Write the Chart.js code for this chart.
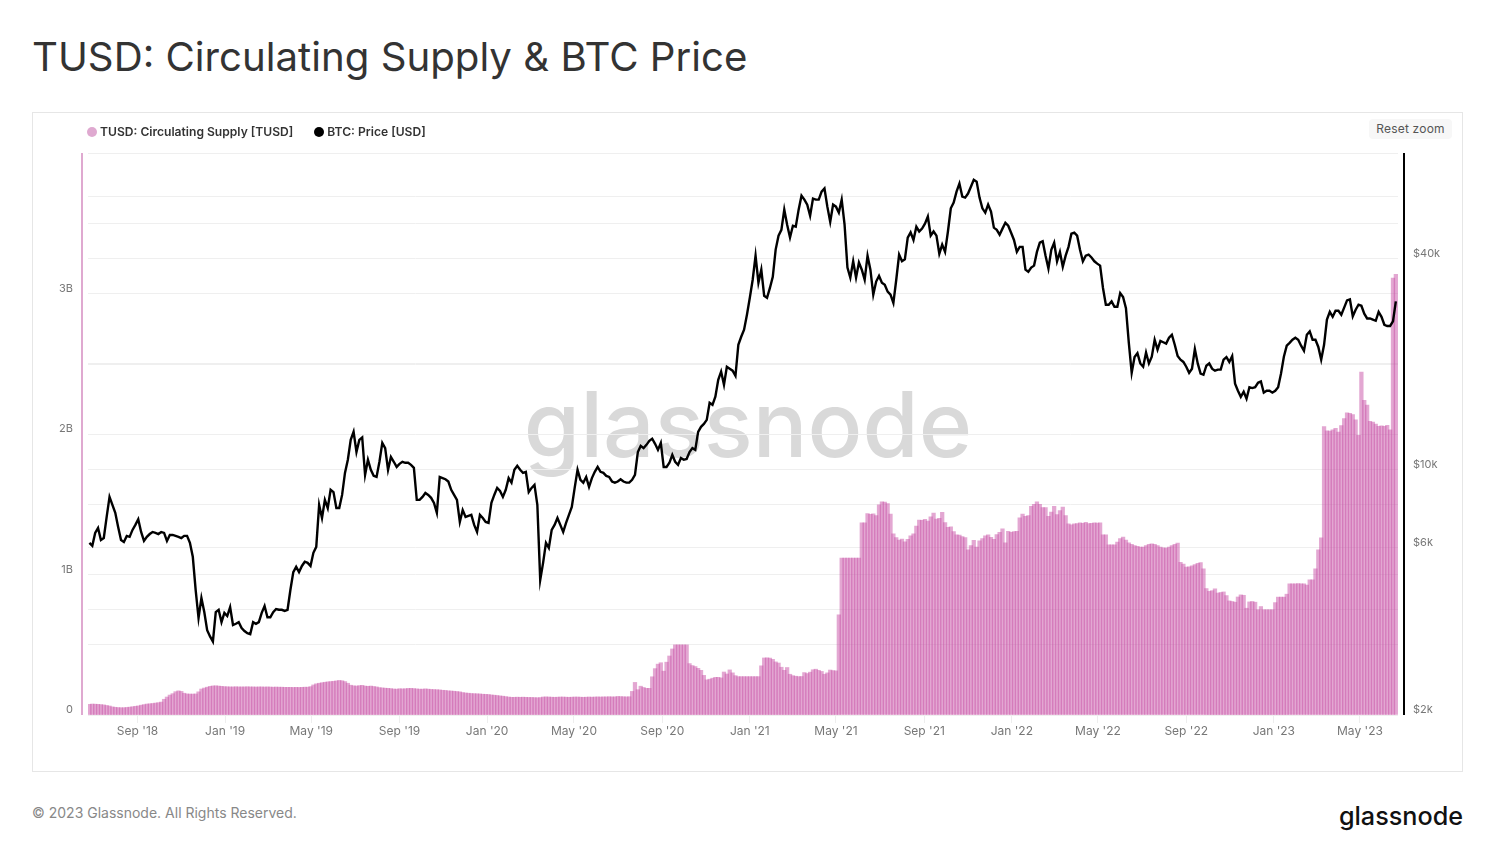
<!DOCTYPE html>
<html>
<head>
<meta charset="utf-8">
<title>TUSD: Circulating Supply & BTC Price</title>
<script src="https://cdn.jsdelivr.net/npm/chart.js@4"></script>
<style>
body { margin: 0; background: #fff; font-family: Inter, sans-serif; width: 1495px; height: 861px; position: relative; overflow: hidden; }
h1 { position: absolute; left: 32px; top: 33px; margin: 0; font-size: 40.2px; line-height: 48px; font-weight: 400; color: #333; white-space: nowrap; }
#frame { position: absolute; left: 32px; top: 112px; width: 1429px; height: 658px; border: 1px solid #e6e6e6; }
#frame canvas { position: absolute; left: -1px; top: -1px; }
#legend { position: absolute; left: 54px; top: 11px; font-size: 12.1px; font-weight: 600; color: #333; white-space: nowrap; }
#legend span { display: inline-block; line-height: 16px; }
#legend i { display: inline-block; width: 10px; height: 10px; border-radius: 50%; margin-right: 3px; vertical-align: -1px; }
#legend span + span { margin-left: 21px; }
#reset { position: absolute; left: 1336px; top: 6px; width: 83px; height: 20px; line-height: 20px; text-align: center; background: #f7f7f7; border-radius: 4px; font-size: 12px; color: #555; letter-spacing: .2px; }
#footer { position: absolute; left: 32px; top: 804px; font-size: 14px; line-height: 18px; color: #888; }
#logo { position: absolute; right: 32px; top: 798px; font-size: 25.2px; line-height: 36px; font-weight: 500; color: #111; }
</style>
</head>
<body>
<h1>TUSD: Circulating Supply &amp; BTC Price</h1>
<div id="frame">
  <canvas id="chart" width="1430" height="659"></canvas>
  <div id="legend"></div>
  <div id="reset">Reset zoom</div>
</div>
<div id="footer">© 2023 Glassnode. All Rights Reserved.</div>
<div id="logo">glassnode</div>
<script>
// one reading every 4 days, starting late June 2018
const stepDays = 4;

// TUSD supply, millions
const supply = [
    76,78,77,76,74,72,68,64,58,55,
    53,52,52,54,56,59,62,65,70,74,
    78,80,82,85,88,92,112,128,142,152,
    166,172,168,155,150,149,149,150,165,185,
    192,198,204,207,208,206,204,202,201,200,
    200,201,200,200,200,201,200,200,199,200,
    200,199,200,199,198,199,198,198,197,197,
    197,196,197,196,197,198,198,202,214,222,
    226,230,233,236,238,240,243,246,244,238,
    226,212,208,206,209,211,206,204,206,203,
    200,195,193,191,190,188,185,184,187,186,
    187,189,190,188,186,184,184,186,184,182,
    181,180,179,176,175,172,171,169,167,165,
    160,157,155,153,152,151,150,148,147,146,
    143,141,139,136,134,131,128,126,126,127,
    126,127,126,125,125,124,123,124,128,129,
    128,127,126,127,128,128,127,126,127,128,
    128,127,126,127,128,127,128,129,128,129,
    129,130,129,129,132,131,130,129,130,168,
    232,180,205,196,190,190,272,330,362,372,
    312,376,420,470,499,499,499,499,499,366,
    352,345,332,318,282,250,255,262,268,268,
    264,306,292,321,300,280,273,273,273,273,
    273,273,273,273,350,406,407,405,396,378,
    370,340,318,338,290,280,276,273,274,302,
    295,305,322,326,318,310,290,300,320,316,
    314,713,1117,1117,1117,1117,1117,1117,1117,1367,
    1367,1433,1428,1432,1420,1495,1518,1516,1505,1430,
    1290,1262,1245,1252,1232,1250,1275,1290,1345,1388,
    1385,1392,1380,1410,1438,1395,1400,1443,1370,1335,
    1340,1305,1283,1280,1270,1262,1176,1205,1243,1195,
    1240,1255,1275,1283,1265,1250,1285,1300,1325,1225,
    1307,1300,1305,1308,1403,1430,1414,1420,1485,1500,
    1518,1500,1476,1476,1414,1445,1485,1426,1455,1480,
    1420,1360,1354,1360,1362,1368,1364,1372,1362,1365,
    1368,1366,1367,1283,1283,1212,1212,1212,1230,1255,
    1266,1245,1225,1215,1205,1200,1196,1195,1205,1215,
    1219,1215,1205,1195,1190,1188,1195,1205,1215,1223,
    1087,1075,1052,1055,1062,1070,1080,1085,1040,900,
    880,885,898,868,872,876,850,812,808,803,
    840,855,852,760,805,808,803,749,772,749,
    749,749,749,800,839,839,839,860,934,934,
    934,935,934,934,925,962,962,1040,1176,1261,
    2053,2022,2020,2030,2040,2013,2060,2110,2150,2148,
    2139,2100,1990,2440,2240,2205,2090,2084,2070,2055,
    2058,2055,2062,2030,3109,3137
];

// BTC price, USD
const price = [
    6190,6070,6610,6830,6310,6390,7340,8370,7940,7540,
    6870,6310,6230,6480,6440,6740,6965,7230,6650,6270,
    6440,6560,6650,6610,6560,6650,6610,6270,6520,6520,
    6480,6440,6390,6480,6480,6190,5650,4540,3780,4310,
    3930,3490,3350,3240,3930,3990,3680,3910,3830,4060,
    3610,3640,3680,3540,3470,3420,3400,3680,3640,3680,
    3910,4090,3800,3800,3930,4010,3990,3990,3960,3990,
    4550,5110,5290,5110,5320,5470,5430,5320,5800,6030,
    7943,7290,8210,7780,8770,8640,7780,7780,8482,9800,
    10680,12170,12830,11240,12170,12370,9673,10680,10000,9610,
    9540,10540,11930,11530,10000,10880,10540,10190,10400,10540,
    10470,10470,10330,10130,8210,8210,8370,8590,8480,8320,
    8050,7540,9540,9470,9400,9260,8770,8480,8210,7100,
    7680,7340,7390,7440,6965,6650,7440,7290,7100,7060,
    8050,8480,8880,8700,8370,8770,9470,9190,10000,10260,
    10000,9800,9870,8640,8880,9058,7943,4850,5430,6190,
    5990,6740,6965,7290,6965,6650,7060,7440,7840,8880,
    10000,9360,9190,9540,8940,9470,9870,10190,9870,9800,
    9610,9540,9260,9190,9260,9400,9260,9190,9190,9360,
    9670,11240,11700,11530,11780,12090,12260,11860,11400,11930,
    10190,10190,10470,11030,10540,10330,10810,10680,10740,11240,
    11530,11400,12830,13260,13510,13880,15520,15320,16150,18050,
    19050,17470,19670,19420,19170,18530,22720,23950,25080,27670,
    30930,34820,40770,34150,37190,31350,30930,32990,35500,42430,
    46480,48300,55150,49980,45950,49640,49320,55150,60470,58900,
    57000,53000,59290,58900,58900,62110,63380,56250,50920,57000,
    56250,54120,58900,49980,37700,35300,39300,35300,39000,37190,
    34820,40770,37190,31560,34400,35700,34150,33700,32200,31560,
    29900,34820,41040,39300,39800,45900,47500,45200,49300,47800,
    48700,50300,52700,46500,47800,46500,41300,43830,41800,47800,
    55650,57800,62100,65450,60100,59700,61300,64100,67100,66300,
    59700,55650,54100,57000,54500,49000,48300,46800,48700,50600,
    49640,47400,45200,41800,43200,43200,37200,36700,37700,38200,
    41800,44400,44800,40770,37500,42400,44400,39300,41800,37900,
    40770,43200,47100,47400,46500,42400,39300,40770,41040,40300,
    39300,38700,38200,32990,29550,29550,30200,29150,29150,31900,
    31100,28900,23000,18900,20960,21500,20100,19670,21600,20100,
    21000,23480,22000,23300,23100,22900,23800,24270,22720,21100,
    20600,20300,19670,18900,19420,22100,20100,18800,18660,19800,
    20100,19420,19170,19300,19300,20600,20960,20300,21100,17600,
    16800,16150,16700,15950,17200,17100,17200,17700,17850,16590,
    16800,16800,16590,16800,17200,18800,21000,22580,23000,23480,
    23800,23480,22580,21850,24270,24800,23480,23480,22400,20600,
    22720,26800,28200,27300,28400,28400,27670,29000,30400,30600,
    27400,28600,29550,29350,27870,27000,27000,26800,26600,28200,
    27300,25910,25700,25700,26500,30200
];

// x axis: day offset of each month label
const monthDays = [67, 189, 309, 432, 554, 675, 798, 920, 1040, 1163, 1285, 1405, 1528, 1650, 1770];
const monthLabels = ["Sep '18", "Jan '19", "May '19", "Sep '19", "Jan '20", "May '20", "Sep '20", "Jan '21", "May '21", "Sep '21", "Jan '22", "May '22", "Sep '22", "Jan '23", "May '23"];

// y axes
const supplyLabels = { 0: '0', 1000: '1B', 2000: '2B', 3000: '3B' };
const priceTicks = [2000, 4000, 6000, 10000, 20000, 40000, 60000, 80000];
const priceLabels = { 2000: '$2k', 6000: '$6k', 10000: '$10k', 40000: '$40k' };

const pinkColor = '#dfa9d0';
const blackColor = '#000';

// watermark and the two detached axis lines
const decorations = {
    id: 'decorations',
    beforeDraw(chart) {
        const ctx = chart.ctx, a = chart.chartArea;
        ctx.save();
        ctx.font = '500 91px Inter, sans-serif';
        ctx.fillStyle = '#d9d9d9';
        ctx.textAlign = 'center';
        ctx.textBaseline = 'alphabetic';
        ctx.fillText('glassnode', (a.left + a.right) / 2 + 5, 345);
        ctx.restore();
    },
    afterDraw(chart) {
        const ctx = chart.ctx, a = chart.chartArea;
        ctx.save();
        ctx.lineWidth = 2;
        ctx.strokeStyle = pinkColor;
        ctx.beginPath();
        ctx.moveTo(a.left - 6, a.top);
        ctx.lineTo(a.left - 6, a.bottom);
        ctx.stroke();
        ctx.strokeStyle = blackColor;
        ctx.beginPath();
        ctx.moveTo(a.right + 6, a.top);
        ctx.lineTo(a.right + 6, a.bottom);
        ctx.stroke();
        ctx.restore();
    }
};

const chart = new Chart(document.getElementById('chart'), {
    data: {
        datasets: [
            {
                type: 'line',
                label: 'BTC: Price [USD]',
                data: price.map((v, i) => ({ x: i * stepDays, y: v })),
                yAxisID: 'yPrice',
                borderColor: blackColor,
                backgroundColor: blackColor,
                borderWidth: 2.4,
                pointRadius: 0,
                tension: 0,
                order: 1
            },
            {
                type: 'bar',
                label: 'TUSD: Circulating Supply [TUSD]',
                data: supply.map((v, i) => ({ x: i * stepDays, y: v })),
                yAxisID: 'ySupply',
                backgroundColor: 'rgba(200, 80, 165, 0.5)',
                barThickness: 3.6,
                order: 2
            }
        ]
    },
    options: {
        responsive: false,
        animation: false,
        layout: { padding: { top: 41, left: 0, right: 0, bottom: 0 } },
        plugins: { legend: { display: false }, tooltip: { enabled: false } },
        scales: {
            x: {
                type: 'linear',
                min: -2,
                max: 1823,
                offset: false,
                grid: { drawOnChartArea: false, tickLength: 8, color: '#eeeeee', offset: false },
                border: { display: false },
                ticks: {
                    autoSkip: false,
                    maxRotation: 0,
                    padding: 1,
                    color: '#777',
                    font: { family: 'Inter, sans-serif', size: 12 },
                    callback: value => monthLabels[monthDays.indexOf(value)]
                },
                afterBuildTicks: scale => { scale.ticks = monthDays.map(v => ({ value: v })); },
                afterFit: scale => { scale.height = 56; }
            },
            ySupply: {
                type: 'linear',
                position: 'left',
                min: 0,
                max: 4000,
                grid: { color: '#efefef', drawTicks: false },
                border: { display: false },
                ticks: {
                    stepSize: 500,
                    autoSkip: false,
                    padding: 15,
                    labelOffset: -5,
                    color: '#777',
                    font: { family: 'Inter, sans-serif', size: 11 },
                    callback: value => supplyLabels[value] || ''   // '' keeps the grid line
                },
                afterFit: scale => { scale.width = 56; }
            },
            yPrice: {
                type: 'logarithmic',
                position: 'right',
                min: 2000,
                max: 80000,
                grid: { color: '#efefef', drawTicks: false },
                border: { display: false },
                ticks: {
                    autoSkip: false,
                    padding: 15,
                    labelOffset: -5,
                    color: '#777',
                    font: { family: 'Inter, sans-serif', size: 11 },
                    callback: value => priceLabels[value] || ''
                },
                afterBuildTicks: scale => { scale.ticks = priceTicks.map(v => ({ value: v })); },
                afterFit: scale => { scale.width = 64; }
            }
        }
    },
    plugins: [decorations]
});

// legend, supply first like the original
document.getElementById('legend').innerHTML = [pinkColor, blackColor].map((color, i) => {
    const name = chart.data.datasets[1 - i].label;
    return `<span><i style="background:${color}"></i>${name}</span>`;
}).join('');
</script>
</body>
</html>
